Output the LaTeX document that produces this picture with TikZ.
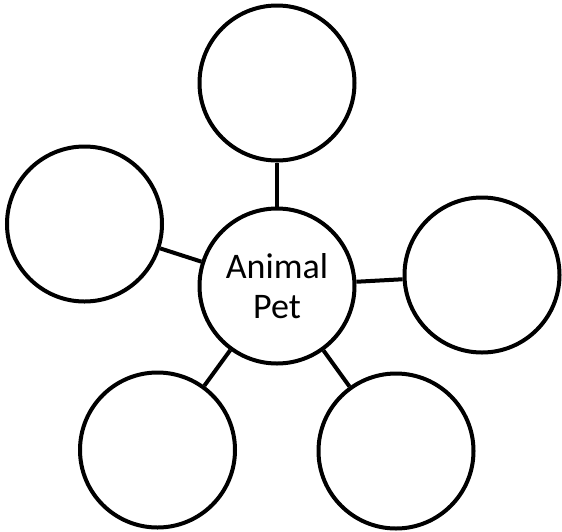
\documentclass[tikz,border=0pt]{standalone}
\usepackage{fontspec}
\setmainfont{Carlito}
\begin{document}
\begin{tikzpicture}[x=1pt,y=-1pt,
  bubble/.style={circle,draw=black,line width=4pt,minimum size=155pt,inner sep=0pt,fill=white},
  link/.style={line width=4pt,draw=black}]
\useasboundingbox (0,0) rectangle (562,531);
\node[bubble] (top) at (277,83) {};
\node[bubble] (left) at (84.5,224) {};
\node[bubble,align=center,font=\fontsize{36}{40}\selectfont] (center) at (277,286) {Animal\\Pet};
\node[bubble] (right) at (482,275) {};
\node[bubble] (bl) at (157.5,450) {};
\node[bubble] (br) at (396,451) {};
\draw[link] (top) -- (center);
\draw[link] (left) -- (center);
\draw[link] (right) -- (center);
\draw[link] (bl) -- (center);
\draw[link] (br) -- (center);
\end{tikzpicture}
\end{document}
